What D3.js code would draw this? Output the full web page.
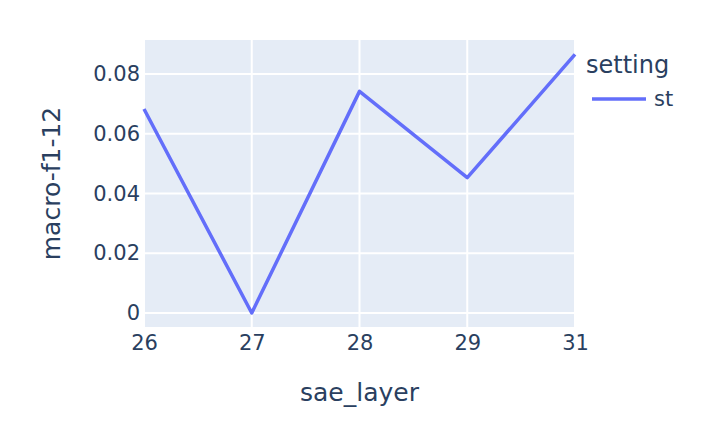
<!DOCTYPE html>
<html>
<head>
<meta charset="utf-8">
<script src="https://cdn.jsdelivr.net/npm/d3@7"></script>
<style>
  body { margin: 0; background: #fff; }
  text { font-family: "DejaVu Sans", Verdana, sans-serif; fill: #2a3f5f; }
</style>
</head>
<body>
<div class="canvas"></div>
<script>
// data
const layers = ["26", "27", "28", "29", "31"];
const macroF1 = [0.0683, 0.0, 0.0742, 0.0453, 0.0866];
const yTicks = [0, 0.02, 0.04, 0.06, 0.08];
const seriesName = "st";

const W = 718, H = 424;
const plot = { left: 144, right: 575, top: 40, bottom: 327 };

const svg = d3.select(".canvas")
  .append("svg")
  .attr("width", W)
  .attr("height", H);

const x = d3.scalePoint()
  .domain(layers)
  .range([plot.left, plot.right]);

const y = d3.scaleLinear()
  .domain([-0.00469, 0.0914])
  .range([plot.bottom, plot.top]);

// background
svg.append("rect")
  .attr("x", plot.left)
  .attr("y", plot.top)
  .attr("width", plot.right - plot.left)
  .attr("height", plot.bottom - plot.top)
  .attr("fill", "#E5ECF6");

// grid
const grid = svg.append("g");
grid.selectAll("line.gx")
  .data(layers)
  .enter()
  .append("line")
  .attr("x1", d => x(d))
  .attr("x2", d => x(d))
  .attr("y1", plot.top)
  .attr("y2", plot.bottom)
  .attr("stroke", "#fff")
  .attr("stroke-width", 2);
grid.selectAll("line.gy")
  .data(yTicks)
  .enter()
  .append("line")
  .attr("x1", plot.left)
  .attr("x2", plot.right)
  .attr("y1", d => y(d))
  .attr("y2", d => y(d))
  .attr("stroke", "#fff")
  .attr("stroke-width", 2);

// axes (labels only, like plotly)
const xAxis = svg.append("g")
  .attr("transform", `translate(0,${plot.bottom})`)
  .call(d3.axisBottom(x).tickSize(0).tickPadding(8));
xAxis.select(".domain").remove();
xAxis.selectAll("text")
  .style("font-size", "21px")
  .style("font-family", "DejaVu Sans")
  .attr("fill", "#2a3f5f");

const yAxis = svg.append("g")
  .attr("transform", `translate(${plot.left},0)`)
  .call(d3.axisLeft(y).tickValues(yTicks).tickSize(0).tickPadding(4)
    .tickFormat(d => d === 0 ? "0" : d3.format(".2f")(d)));
yAxis.select(".domain").remove();
yAxis.selectAll("text")
  .style("font-size", "21px")
  .style("font-family", "DejaVu Sans")
  .attr("fill", "#2a3f5f");

// line
const line = d3.line()
  .x((d, i) => x(layers[i]))
  .y(d => y(d));

svg.append("path")
  .datum(macroF1)
  .attr("d", line)
  .attr("fill", "none")
  .attr("stroke", "#636efa")
  .attr("stroke-width", 3.5)
  .attr("stroke-linejoin", "round");

// axis titles
svg.append("text")
  .attr("x", (plot.left + plot.right) / 2)
  .attr("y", 401)
  .attr("text-anchor", "middle")
  .style("font-size", "25px")
  .text("sae_layer");

svg.append("text")
  .attr("transform", `translate(60,${(plot.top + plot.bottom) / 2}) rotate(-90)`)
  .attr("text-anchor", "middle")
  .style("font-size", "25px")
  .text("macro-f1-12");

// legend
const legend = svg.append("g");
legend.append("text")
  .attr("x", 586)
  .attr("y", 73)
  .style("font-size", "24px")
  .text("setting");
legend.append("line")
  .attr("x1", 592)
  .attr("x2", 646)
  .attr("y1", 99)
  .attr("y2", 99)
  .attr("stroke", "#636efa")
  .attr("stroke-width", 3.5);
legend.append("text")
  .attr("x", 654)
  .attr("y", 106)
  .style("font-size", "21px")
  .text(seriesName);
</script>
</body>
</html>
